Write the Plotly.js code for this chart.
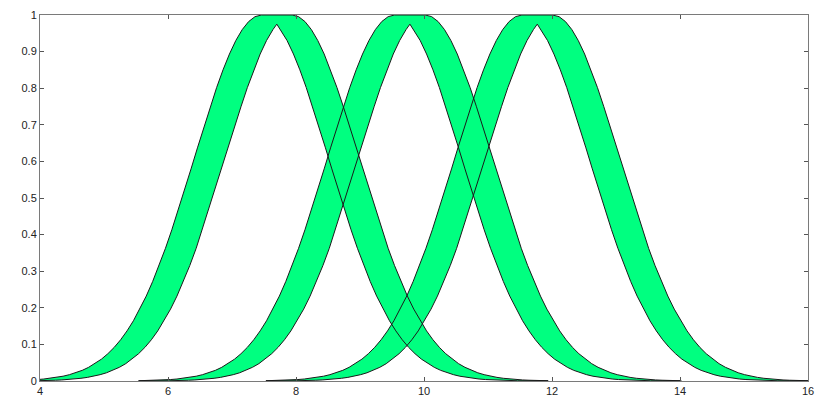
<!DOCTYPE html>
<html>
<head>
<meta charset="utf-8">
<script src="https://cdn.plot.ly/plotly-3.0.1.min.js"></script>
<style>
  html, body { margin: 0; padding: 0; background: #ffffff; }
  #chart { width: 816px; height: 398px; }
</style>
</head>
<body>
<div id="chart"></div>
<script>
// Membership profile: height vs distance from a mean
const profileDist = [0.0,0.1,0.2,0.3,0.4,0.5,0.6,0.7,0.8,0.9,1.0,1.1,1.2,1.3,1.4,1.5,1.6,1.7,1.8,1.9,2.0,
                     2.1,2.2,2.3,2.4,2.5,2.6,2.7,2.8,2.9,3.0,3.1,3.2,3.3,3.4,3.5,3.6,3.7,3.8,3.9,4.0];
const profileHeight = [1.0000,0.9955,0.9821,0.9602,0.9304,0.8934,0.8502,0.8018,0.7493,0.6940,0.6370,
                       0.5795,0.5224,0.4667,0.4132,0.3625,0.3153,0.2717,0.2320,0.1964,0.1647,
                       0.1369,0.1127,0.0920,0.0745,0.0597,0.0474,0.0374,0.0291,0.0225,0.0173,
                       0.0131,0.0099,0.0074,0.0054,0.0040,0.0029,0.0021,0.0015,0.0011,0.0007];

// Three bands: lower / upper mean, apex position and apex height of the lower curve
const meanLow  = [7.46, 9.54, 11.53];
const meanHigh = [7.94, 10.02, 12.01];
const apexX    = [7.70, 9.78, 11.77];
const apexY    = [0.975, 0.975, 0.975];

const xTicks = [4, 6, 8, 10, 12, 14, 16];
const xTickText = ['4', '6', '8', '10', '12', '14', '16'];
const yTicks = [0, 0.1, 0.2, 0.3, 0.4, 0.5, 0.6, 0.7, 0.8, 0.9, 1];
const yTickText = ['0', '0.1', '0.2', '0.3', '0.4', '0.5', '0.6', '0.7', '0.8', '0.9', '1'];

function bandPolygon(m1, m2, cx, cy) {
  const xs = [], ys = [];
  const n = profileDist.length;
  // upper curve, left flank of the lower mean, from far to near
  for (let i = n - 1; i >= 0; i--) { xs.push(m1 - profileDist[i]); ys.push(profileHeight[i]); }
  // upper curve, right flank of the upper mean
  for (let i = 0; i < n; i++) { xs.push(m2 + profileDist[i]); ys.push(profileHeight[i]); }
  // lower curve, right part back to the apex
  for (let i = n - 1; i >= 0; i--) {
    if (m1 + profileDist[i] > cx) { xs.push(m1 + profileDist[i]); ys.push(profileHeight[i]); }
  }
  xs.push(cx); ys.push(cy);
  // lower curve, left part
  for (let i = 0; i < n; i++) {
    if (m2 - profileDist[i] < cx) { xs.push(m2 - profileDist[i]); ys.push(profileHeight[i]); }
  }
  xs.push(xs[0]); ys.push(ys[0]);
  return { xs, ys };
}

const traces = [];
const polys = meanLow.map((m, i) => bandPolygon(m, meanHigh[i], apexX[i], apexY[i]));
polys.forEach(p => {
  traces.push({
    x: p.xs, y: p.ys, type: 'scatter', mode: 'lines',
    fill: 'toself', fillcolor: '#00ff80',
    line: { width: 0, color: 'rgba(0,0,0,0)' },
    hoverinfo: 'skip', showlegend: false
  });
});
polys.forEach(p => {
  traces.push({
    x: p.xs, y: p.ys, type: 'scatter', mode: 'lines',
    line: { width: 1, color: '#1a1a1a' },
    hoverinfo: 'skip', showlegend: false
  });
});

const axisFont = { family: 'Liberation Sans, Arial, sans-serif', size: 11, color: '#222222' };

const layout = {
  width: 816, height: 398,
  margin: { l: 40, r: 8, t: 15, b: 17 },
  paper_bgcolor: '#ffffff', plot_bgcolor: '#ffffff',
  showlegend: false,
  xaxis: {
    range: [4, 16], tickvals: xTicks, ticktext: xTickText,
    ticks: 'inside', ticklen: 4, tickcolor: '#555555',
    showline: true, linecolor: '#7a7a7a', linewidth: 1, mirror: 'ticks',
    showgrid: false, zeroline: false, tickfont: axisFont, fixedrange: true
  },
  yaxis: {
    range: [0, 1], tickvals: yTicks, ticktext: yTickText,
    ticks: 'inside', ticklen: 4, tickcolor: '#555555',
    showline: true, linecolor: '#7a7a7a', linewidth: 1, mirror: 'ticks',
    showgrid: false, zeroline: false, tickfont: axisFont, fixedrange: true
  }
};

Plotly.newPlot('chart', traces, layout, { staticPlot: true, displayModeBar: false });
</script>
</body>
</html>
